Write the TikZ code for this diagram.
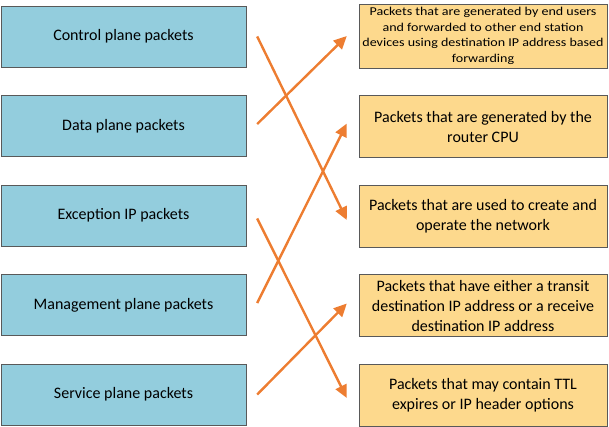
\documentclass[tikz,border=0pt]{standalone}
\usepackage{fontspec}
\setmainfont{Carlito}
\usetikzlibrary{positioning}
\usetikzlibrary{arrows.meta}
\definecolor{planeblue}{HTML}{93CDDD}
\definecolor{descyellow}{HTML}{FDD98D}
\definecolor{boxline}{HTML}{595959}
\definecolor{linkorange}{HTML}{ED7D31}
\begin{document}
\begin{tikzpicture}[x = 1pt, y = -1pt,
    plane/.style = {shape = rectangle, draw = boxline, fill = planeblue, minimum width = 245pt, minimum height = 61pt, inner sep = 2pt, font = \fontsize{16}{20}\selectfont},
    desc/.style = {shape = rectangle, draw = boxline, fill = descyellow, minimum width = 248pt, minimum height = 62pt, inner sep = 1pt, align = center, font = \fontsize{16}{20}\selectfont},
    link/.style = {-{Triangle[length = 13pt, width = 12pt]}, draw = linkorange, line width = 2.4pt},
    ]
    \useasboundingbox (0, 0) rectangle (609, 426);

    \node[plane] (P1) at (123.5, 36.5) {Control plane packets};
    \node[plane] (P2) at (123.5, 126) {Data plane packets};
    \node[plane] (P3) at (123.5, 215.5) {Exception IP packets};
    \node[plane] (P4) at (123.5, 305) {Management plane packets};
    \node[plane] (P5) at (123.5, 394.5) {Service plane packets};

    \node[desc] (D1) at (483, 36) {\scalebox{1.17}[1]{\fontsize{12}{15.6}\selectfont\begin{tabular}{@{}c@{}}Packets that are generated by end users\\and forwarded to other end station\\devices using destination IP address based\\forwarding\end{tabular}}};
    \node[desc] (D2) at (483, 126.5) {Packets that are generated by the\\router CPU};
    \node[desc] (D3) at (483, 216) {Packets that are used to create and\\operate the network};
    \node[desc] (D4) at (483, 305.5) {Packets that have either a transit\\destination IP address or a receive\\destination IP address};
    \node[desc] (D5) at (483, 395) {Packets that may contain TTL\\expires or IP header options};

    \draw[link] ([xshift = 11pt]P1.east) -- ([xshift = -12pt, yshift = -4pt]D3.west);
    \draw[link] ([xshift = 11pt, yshift = 2pt]P2.east) -- ([xshift = -12pt]D1.west);
    \draw[link] ([xshift = 11pt, yshift = -3pt]P3.east) -- ([xshift = -12pt, yshift = -3pt]D5.west);
    \draw[link] ([xshift = 11pt, yshift = 2pt]P4.east) -- ([xshift = -12pt, yshift = 3pt]D2.west);
    \draw[link] ([xshift = 11pt]P5.east) -- ([xshift = -12pt, yshift = 2pt]D4.west);
\end{tikzpicture}
\end{document}
